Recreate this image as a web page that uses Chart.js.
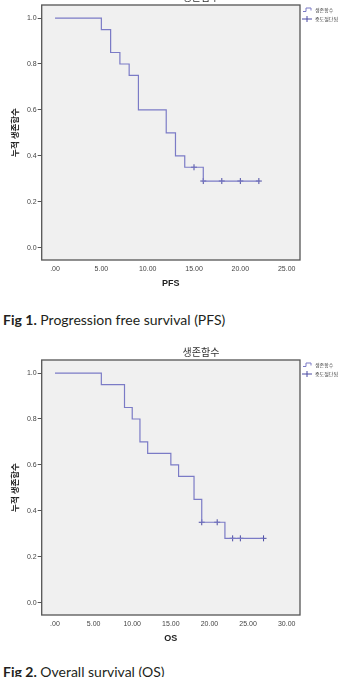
<!DOCTYPE html>
<html>
<head>
<meta charset="utf-8">
<script src="https://cdn.jsdelivr.net/npm/chart.js@4/dist/chart.umd.min.js"></script>
<style>
  body { margin: 0; background: #fff; width: 356px; height: 677px; overflow: hidden; position: relative; font-family: Lato, sans-serif; }
  .box { position: absolute; left: 0; width: 356px; }
  .cap { position: absolute; left: 3px; font-size: 14px; color: #231f20; white-space: nowrap; }
  .cap b { font-weight: 700; }
</style>
</head>
<body>
<div class="box" style="top:0;height:300px"><canvas id="pfsChart"></canvas></div>
<div class="cap" style="top:311px"><b>Fig 1.</b> Progression free survival (PFS)</div>
<div class="box" style="top:340px;height:310px"><canvas id="osChart"></canvas></div>
<div class="cap" style="top:663px"><b>Fig 2.</b> Overall survival (OS)</div>

<script>
// PFS survival steps (time, cumulative survival) and censored cases
const pfsTimes = [0, 5, 6, 7, 8, 9, 12, 13, 14, 16, 22];
const pfsSurv = [1.0, 0.95, 0.85, 0.80, 0.75, 0.60, 0.50, 0.40, 0.35, 0.29, 0.29];
const pfsCensorTimes = [15, 16, 18, 20, 22];
const pfsCensorSurv = [0.35, 0.29, 0.29, 0.29, 0.29];
const pfsXTicks = [0, 5, 10, 15, 20, 25];

// OS survival steps and censored cases
const osTimes = [0, 6, 9, 10, 11, 12, 15, 16, 18, 19, 22, 27];
const osSurv = [1.0, 0.95, 0.85, 0.80, 0.70, 0.65, 0.60, 0.55, 0.45, 0.35, 0.28, 0.28];
const osCensorTimes = [19, 21, 23, 24, 27];
const osCensorSurv = [0.35, 0.35, 0.28, 0.28, 0.28];
const osXTicks = [0, 5, 10, 15, 20, 25, 30];

const yTicks = [0, 0.2, 0.4, 0.6, 0.8, 1.0];
const legendLabels = ['생존함수', '중도절단됨'];
const chartTitle = '생존함수';
const yTitle = '누적 생존함수';

const lineColor = '#7b7bc6';
const censorColor = '#4b4ba3';
const korFont = '"Noto Sans CJK KR", sans-serif';

// background, frame, title, legend and axis titles
const kmFrame = {
    id: 'kmFrame',
    beforeDraw(chart) {
        const a = chart.chartArea, ctx = chart.ctx;
        ctx.save();
        ctx.fillStyle = '#f0f0f0';
        ctx.fillRect(a.left, a.top, a.right - a.left, a.bottom - a.top);
        ctx.restore();
    },
    afterDraw(chart, args, opts) {
        const a = chart.chartArea, ctx = chart.ctx;
        ctx.save();
        ctx.strokeStyle = '#555';
        ctx.lineWidth = 1.3;
        ctx.strokeRect(a.left, a.top, a.right - a.left, a.bottom - a.top);

        // chart title
        ctx.fillStyle = '#333';
        ctx.font = '10px ' + korFont;
        ctx.textAlign = 'center';
        ctx.textBaseline = 'middle';
        ctx.fillText(chartTitle, 201, a.top - 8);

        // x axis title
        ctx.fillStyle = '#222';
        ctx.font = 'bold 9px "Liberation Sans", Arial';
        ctx.fillText(opts.xTitle, (a.left + a.right) / 2, a.bottom + 24);

        // y axis title
        ctx.save();
        ctx.translate(15, (a.top + a.bottom) / 2);
        ctx.rotate(-Math.PI / 2);
        ctx.font = 'bold 8.5px ' + korFont;
        ctx.fillText(yTitle, 0, 0);
        ctx.restore();

        // legend
        const ds = chart.data.datasets;
        const y1 = a.top + 5, y2 = a.top + 14;
        ctx.lineWidth = 1;
        ctx.strokeStyle = lineColor;
        ctx.beginPath();
        ctx.moveTo(303, y1 + 1.5);
        ctx.lineTo(306, y1 + 1.5);
        ctx.lineTo(306, y1 - 2);
        ctx.lineTo(311, y1 - 2);
        ctx.lineTo(311, y1 + 0.5);
        ctx.stroke();
        ctx.strokeStyle = censorColor;
        ctx.beginPath();
        ctx.moveTo(302, y2);
        ctx.lineTo(312, y2);
        ctx.moveTo(307, y2 - 3);
        ctx.lineTo(307, y2 + 3);
        ctx.stroke();
        ctx.fillStyle = '#444';
        ctx.font = '5px ' + korFont;
        ctx.textAlign = 'left';
        ctx.fillText(ds[0].label, 315, y1);
        ctx.fillText(ds[1].label, 315, y2);
        ctx.restore();
    }
};

function toPoints(xs, ys) {
    return xs.map((x, i) => ({ x: x, y: ys[i] }));
}

function drawKm(id, cfg) {
    return new Chart(document.getElementById(id), {
        type: 'line',
        data: {
            datasets: [{
                label: legendLabels[0],
                data: toPoints(cfg.times, cfg.surv),
                stepped: 'before',
                borderColor: lineColor,
                borderWidth: 1.2,
                pointRadius: 0,
                fill: false
            }, {
                label: legendLabels[1],
                data: toPoints(cfg.cTimes, cfg.cSurv),
                showLine: false,
                pointStyle: 'cross',
                pointRadius: 3,
                pointBorderWidth: 1,
                borderColor: censorColor,
                backgroundColor: censorColor
            }]
        },
        options: {
            responsive: true,
            maintainAspectRatio: false,
            animation: false,
            layout: { padding: { top: cfg.top, right: 56, left: 0, bottom: 0 } },
            plugins: {
                legend: { display: false },
                tooltip: { enabled: false },
                kmFrame: { xTitle: cfg.xTitle }
            },
            scales: {
                x: {
                    type: 'linear',
                    min: -cfg.pad,
                    max: cfg.xMax + cfg.pad,
                    afterBuildTicks: s => { s.ticks = cfg.xTicks.map(v => ({ value: v })); },
                    afterFit: s => { s.height = cfg.h - cfg.bottom; s.paddingLeft = 0; s.paddingRight = 0; },
                    grid: { drawOnChartArea: false, drawTicks: false },
                    border: { display: false },
                    ticks: {
                        padding: 5,
                        color: '#444',
                        autoSkip: false,
                        maxRotation: 0,
                        font: { family: '"Liberation Sans", Arial', size: 7 },
                        callback: v => v === 0 ? '.00' : v.toFixed(2)
                    }
                },
                y: {
                    min: -0.054,
                    max: 1.057,
                    afterBuildTicks: s => { s.ticks = yTicks.map(v => ({ value: v })); },
                    afterFit: s => { s.width = 41.7; s.paddingTop = 0; s.paddingBottom = 0; },
                    grid: { drawOnChartArea: false, drawTicks: true, tickLength: 4, color: '#555' },
                    border: { display: false },
                    ticks: {
                        padding: 1,
                        color: '#444',
                        font: { family: '"Liberation Sans", Arial', size: 7 },
                        callback: v => v.toFixed(1)
                    }
                }
            }
        },
        plugins: [kmFrame]
    });
}

drawKm('pfsChart', {
    times: pfsTimes, surv: pfsSurv, cTimes: pfsCensorTimes, cSurv: pfsCensorSurv,
    xTicks: pfsXTicks, xMax: 25, pad: 1.44, xTitle: 'PFS', top: 4, bottom: 260, h: 300
});
drawKm('osChart', {
    times: osTimes, surv: osSurv, cTimes: osCensorTimes, cSurv: osCensorSurv,
    xTicks: osXTicks, xMax: 30, pad: 1.72, xTitle: 'OS', top: 20, bottom: 275, h: 310
});
</script>
</body>
</html>
